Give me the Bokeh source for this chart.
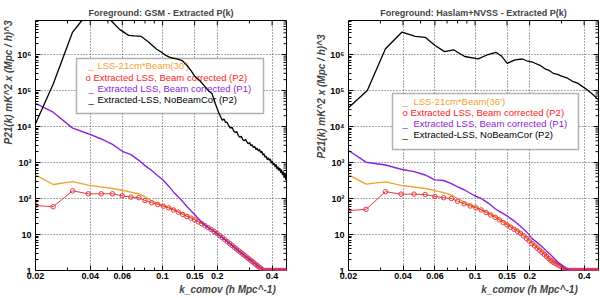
import math
from bokeh.plotting import figure
from bokeh.models import Range1d, FixedTicker, Label, BoxAnnotation, Title
from bokeh.layouts import row
from bokeh.embed import file_html
from bokeh.resources import INLINE

# ---------------- data ----------------
K_MIN, K_MAX = 0.02, 0.48
P_MIN, P_MAX = 1.0, 8.8e6

X_TICKS = [0.02, 0.04, 0.06, 0.1, 0.15, 0.2, 0.4]
X_TICK_LABELS = ["0.02", "0.04", "0.06", "0.1", "0.15", "0.2", "0.4"]
X_MINOR = [0.03, 0.05, 0.07, 0.08, 0.09, 0.3]
Y_TICKS = [1, 10, 100, 1000, 10000, 100000, 1000000]
Y_TICK_LABELS = ["1", "10", "10²", "10³", "10⁴", "10⁵", "10⁶"]

K_RED = [0.020, 0.025, 0.032, 0.039, 0.046, 0.053, 0.060, 0.067, 0.074, 0.080,
         0.087, 0.094, 0.101, 0.108, 0.115, 0.122, 0.129, 0.136, 0.143, 0.150,
         0.157, 0.164, 0.171, 0.178, 0.185, 0.192, 0.199, 0.206, 0.213, 0.220,
         0.227, 0.234, 0.241, 0.248, 0.255, 0.262, 0.269, 0.276, 0.283, 0.290,
         0.297, 0.304, 0.311, 0.318, 0.325, 0.332, 0.339, 0.346, 0.353, 0.360,
         0.367, 0.374, 0.381, 0.388, 0.395, 0.402, 0.409, 0.416, 0.423, 0.430,
         0.437, 0.444, 0.451, 0.458, 0.465, 0.472, 0.479]

RED_GSM = [64, 59, 163, 135, 135, 135, 119, 109, 105, 88,
           76, 68, 61, 55, 48, 42, 36, 31.5, 28.5, 25.5,
           22.5, 20, 17.5, 15.5, 13.8, 12.2, 10.8, 9.3, 8.15, 7.15,
           6.3, 5.6, 4.95, 4.4, 3.95, 3.55, 3.2, 2.87, 2.6, 2.35,
           2.13, 1.94, 1.77, 1.62, 1.48, 1.36, 1.25, 1.15, 1.06, 1.0,
           1, 1, 1, 1, 1, 1, 1, 1, 1, 1,
           1, 1, 1, 1, 1, 1, 1]

RED_HAS = [46, 50, 155, 132, 132, 129, 114, 105, 100, 84,
           71, 62, 55, 48, 41, 35, 30, 25.5, 21.5, 18.5,
           16, 14, 12.3, 10.8, 9.2, 7.8, 6.6, 5.6, 4.8, 4.2,
           3.7, 3.2, 2.8, 2.45, 2.15, 1.9, 1.72, 1.6, 1.5, 1.4,
           1.3, 1.2, 1.1, 1.04, 1.0, 1, 1, 1, 1, 1,
           1, 1, 1, 1, 1, 1, 1, 1, 1, 1,
           1, 1, 1, 1, 1, 1, 1]

K_ORG = [0.020, 0.025, 0.032, 0.039, 0.046, 0.053, 0.060, 0.067, 0.074, 0.080,
         0.087, 0.094, 0.101, 0.115, 0.129, 0.143, 0.157, 0.171, 0.185, 0.199,
         0.213, 0.234, 0.255, 0.276, 0.297, 0.318, 0.339, 0.360, 0.420, 0.479]
ORG_GSM = [455, 245, 295, 235, 210, 190, 170, 150, 135, 112,
           86, 73, 64, 50, 38, 30, 23.5, 18.3, 14.4, 11.3,
           8.5, 5.8, 4.1, 3.0, 2.2, 1.68, 1.30, 1.0, 1.0, 1.0]
ORG_HAS = [455, 250, 290, 232, 208, 190, 166, 145, 125, 100,
           79, 67, 58, 43, 32, 23.5, 17.5, 13.2, 9.9, 7.1,
           5.2, 3.4, 2.3, 1.65, 1.32, 1.05, 1.0, 1.0, 1.0, 1.0]

K_PUR = [0.020, 0.025, 0.032, 0.039, 0.046, 0.053, 0.060, 0.067, 0.074, 0.080,
         0.087, 0.094, 0.101, 0.108, 0.115, 0.122, 0.129, 0.136, 0.143, 0.150,
         0.164, 0.178, 0.192, 0.206, 0.234, 0.262, 0.290, 0.318, 0.339, 0.360,
         0.420, 0.479]
PUR_GSM = [44000, 25000, 9000, 6300, 4500, 3200, 2050, 1650, 1150, 820,
           600, 430, 320, 220, 150, 110, 82, 60, 46, 36,
           22, 15.5, 12.2, 9.3, 5.6, 3.5, 2.35, 1.62, 1.25, 1.0,
           1.0, 1.0]
PUR_HAS = [2150, 1020, 850, 650, 560, 450, 330, 316, 260, 210,
           175, 140, 114, 100, 82, 66, 52, 44, 38, 33,
           24, 17, 12, 7.8, 4.6, 2.7, 1.6, 1.08, 1.0, 1.0,
           1.0, 1.0]

K_BLK_GSM = [0.020, 0.025, 0.032, 0.036, 0.040, 0.046, 0.052, 0.058, 0.065, 0.070,
             0.076, 0.084, 0.092, 0.100, 0.104, 0.109, 0.113, 0.120, 0.128, 0.136,
             0.143, 0.151, 0.160, 0.172, 0.180, 0.187, 0.195, 0.203, 0.208, 0.213,
             0.218, 0.222, 0.226, 0.231, 0.236, 0.241, 0.246, 0.251, 0.256, 0.261,
             0.266, 0.271, 0.276, 0.281, 0.286, 0.291, 0.296, 0.301, 0.306, 0.311,
             0.316, 0.321, 0.326, 0.331, 0.336, 0.341, 0.346, 0.351, 0.356, 0.361,
             0.366, 0.371, 0.376, 0.381, 0.386, 0.391, 0.396, 0.401, 0.406, 0.411,
             0.416, 0.421, 0.426, 0.431, 0.436, 0.441, 0.446, 0.451, 0.456, 0.461,
             0.466, 0.471, 0.476, 0.480]
BLK_GSM = [12000, 150000, 4.2e6, 8.8e6, 1.6e7, 1.6e7, 8.8e6, 5.0e6, 3.4e6, 3.3e6,
           3.2e6, 2.2e6, 1.45e6, 1.1e6, 9.4e5, 8.5e5, 8.0e5, 7.6e5, 6.8e5, 5.0e5,
           3.6e5, 2.4e5, 1.9e5, 1.24e5, 9.5e4, 8.1e4, 4.3e4, 25000, 19000, 15000,
           16000, 13000, 13200, 10500, 9000, 9500, 7500, 6800, 7200, 5600,
           5000, 5400, 4300, 4000, 4400, 3700, 3300, 3600, 2900, 3100,
           2600, 2800, 2300, 2500, 2100, 2300, 1900, 2050, 1600, 1750,
           1400, 1500, 1200, 1350, 1150, 1250, 950, 1100, 850, 950,
           750, 880, 650, 760, 600, 700, 520, 640, 450, 560,
           380, 500, 330, 420]

K_BLK_HAS = [0.020, 0.0254, 0.0320, 0.0395, 0.0467, 0.0530, 0.0601, 0.0678, 0.0760, 0.0876,
             0.104, 0.118, 0.130, 0.140, 0.1505, 0.166, 0.183, 0.195, 0.208, 0.230,
             0.243, 0.256, 0.270, 0.285, 0.300, 0.324, 0.345, 0.368, 0.390, 0.416,
             0.450, 0.480]
BLK_HAS = [33000, 1.0e5, 1.44e6, 4.2e6, 3.2e6, 3.0e6, 1.78e6, 1.2e6, 1.35e6, 8.8e5,
           7.6e5, 1.0e6, 1.15e6, 9.0e5, 5.7e5, 7.1e5, 7.5e5, 6.5e5, 6.1e5, 4.9e5,
           4.0e5, 3.6e5, 3.0e5, 2.8e5, 2.5e5, 2.2e5, 1.8e5, 1.6e5, 1.3e5, 1.05e5,
           7.5e4, 5.5e4]

TITLES = ["Foreground: GSM - Extracted P(k)", "Foreground: Haslam+NVSS - Extracted P(k)"]
LEG_ORANGE = ["LSS-21cm*Beam(30')", "LSS-21cm*Beam(36')"]
LEG_RED = "o Extracted LSS, Beam corrected (P2)"
LEG_PURPLE = "Extracted LSS, Beam corrected (P1)"
LEG_BLACK = "Extracted-LSS, NoBeamCor (P2)"
Y_LABEL = "P21(k) mK^2 x (Mpc / h)^3"
X_LABEL = "k_comov  (h Mpc^-1)"

# ---------------- style ----------------
ORANGE = "#f2a22c"
RED = "#e8383d"
RED_TXT = "#ff1a1a"
PURPLE = "#8a24d8"
FONT = "Liberation Sans"
FY0, FY1 = 20, 270      # frame top/bottom in page px


def build(idx, fig_x, fx0, fx1, red, org, pur, kblk, blk, legend_geom, ylab_off, xlab_off):
    p = figure(width=300, height=298, x_axis_type="log", y_axis_type="log",
               x_range=Range1d(K_MIN, K_MAX), y_range=Range1d(P_MIN, P_MAX),
               output_backend="svg", toolbar_location=None,
               min_border_left=fx0 - fig_x, min_border_right=fig_x + 300 - fx1,
               min_border_top=FY0, min_border_bottom=298 - FY1)
    p.outline_line_color = "black"
    p.outline_line_width = 1
    p.background_fill_color = "white"
    p.border_fill_color = "white"

    def dx(px):
        return 10 ** (math.log10(K_MIN) + (px - fx0) / (fx1 - fx0) * math.log10(K_MAX / K_MIN))

    def dy(py):
        return 10 ** (math.log10(P_MIN) + (FY1 - py) / (FY1 - FY0) * math.log10(P_MAX / P_MIN))

    ymin = [m * d for d in Y_TICKS for m in range(2, 10)]
    p.xaxis.ticker = FixedTicker(ticks=X_TICKS, minor_ticks=X_MINOR)
    p.yaxis.ticker = FixedTicker(ticks=Y_TICKS, minor_ticks=ymin)
    p.xaxis.major_label_overrides = {t: l for t, l in zip(X_TICKS, X_TICK_LABELS)}
    p.yaxis.major_label_overrides = {t: l for t, l in zip(Y_TICKS, Y_TICK_LABELS)}
    for ax in (p.xaxis, p.yaxis):
        ax.major_label_text_font = FONT
        ax.major_label_text_font_style = "bold"
        ax.major_label_text_font_size = "9px"
        ax.major_label_text_color = "black"
        ax.major_tick_in = 5
        ax.major_tick_out = 0
        ax.minor_tick_in = 3
        ax.minor_tick_out = 0
        ax.axis_line_color = None
        ax.major_label_standoff = 4
    p.xaxis.major_label_standoff = 2

    for g in (p.xgrid, p.ygrid):
        g.grid_line_color = "#555555"
        g.grid_line_dash = "1 2"
        g.grid_line_width = 1

    # titles and axis titles
    p.title.text = TITLES[idx]
    p.title.align = "center"
    p.title.text_font = FONT
    p.title.text_font_style = "bold"
    p.title.text_font_size = "9px"
    p.title.standoff = 6
    p.add_layout(Title(text=X_LABEL, align="right", offset=xlab_off, standoff=0,
                       text_font=FONT, text_font_style="bold italic", text_font_size="10px"),
                 "below")
    p.add_layout(Title(text=Y_LABEL, align="right", offset=ylab_off, standoff=1,
                       text_font=FONT, text_font_style="bold italic", text_font_size="10px"),
                 "left")

    # tick marks on top and right edges, from the tick lists
    for vals, L in ((Y_TICKS, 5), (ymin, 3)):
        p.segment(x0=[dx(fx1 - L)] * len(vals), x1=[K_MAX] * len(vals), y0=vals, y1=vals,
                  line_color="black", line_width=1)
    for vals, L in ((X_TICKS, 5), (X_MINOR, 3)):
        p.segment(x0=vals, x1=vals, y0=[dy(FY0 + L)] * len(vals), y1=[P_MAX] * len(vals),
                  line_color="black", line_width=1)

    # legend box (under the curves)
    (bx0, bx1, by0, by1, rows, sx, tx, ox) = legend_geom
    p.add_layout(BoxAnnotation(left=dx(bx0), right=dx(bx1), top=dy(by0), bottom=dy(by1),
                               fill_color="white", fill_alpha=1.0, line_color="black",
                               line_width=1.5, level="underlay"))
    entries = [(LEG_ORANGE[idx], ORANGE, True), (LEG_RED, RED_TXT, False),
               (LEG_PURPLE, PURPLE, True), (LEG_BLACK, "black", True)]
    for (txt, col, has_line), ry in zip(entries, rows):
        if has_line:
            p.add_layout(Label(x=dx(sx), y=dy(ry), text="_", text_color=col, text_font=FONT,
                               text_font_size="9.5px", text_baseline="middle", level="underlay"))
            p.add_layout(Label(x=dx(tx), y=dy(ry), text=txt, text_color=col, text_font=FONT,
                               text_font_size="9.5px", text_baseline="middle", level="underlay"))
        else:
            p.add_layout(Label(x=dx(ox), y=dy(ry), text=txt, text_color=col, text_font=FONT,
                               text_font_size="9.5px", text_baseline="middle", level="underlay"))

    # curves
    p.line(K_ORG, org, line_color=ORANGE, line_width=1.4)
    p.line(K_RED, red, line_color=RED, line_width=1.0)
    p.scatter(K_RED, red, marker="circle", size=4.5, fill_color=None, line_color=RED, line_width=1)
    p.line(K_PUR, pur, line_color=PURPLE, line_width=1.4)
    p.line(kblk, blk, line_color="black", line_width=1.3)
    return p


p1 = build(0, 0, 35, 286, RED_GSM, ORG_GSM, PUR_GSM, K_BLK_GSM, BLK_GSM,
           (76, 263, 58, 113, [65, 77, 88, 99], 88, 97, 85), 0, 8)
p2 = build(1, 300, 348, 598, RED_HAS, ORG_HAS, PUR_HAS, K_BLK_HAS, BLK_HAS,
           (392, 578, 93, 149, [101, 112, 123, 134], 402, 413, 402), 14, 18)

layout = row(p1, p2)
open("out.html", "w").write(file_html(layout, INLINE))
